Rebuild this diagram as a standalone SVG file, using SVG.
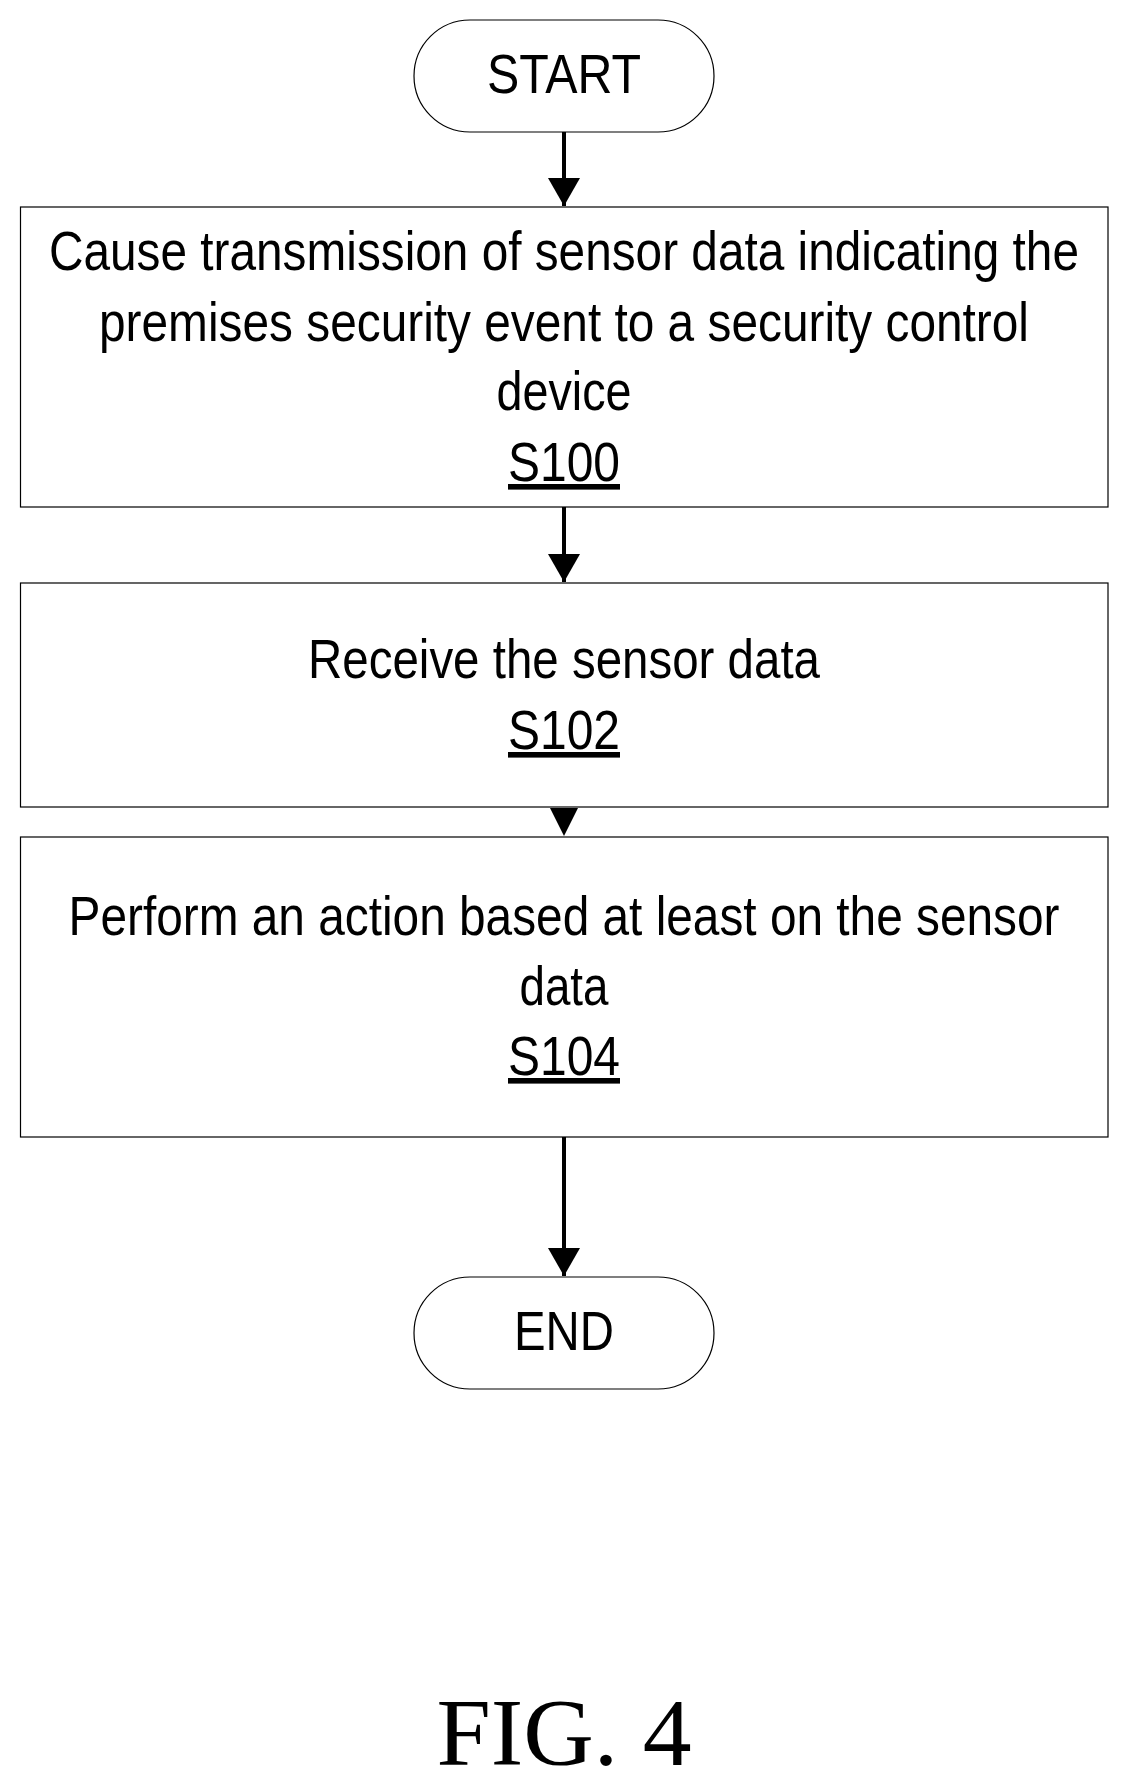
<svg xmlns="http://www.w3.org/2000/svg" width="1128" height="1787" viewBox="0 0 1128 1787">
<style>
.b{fill:#fff;stroke:#000;stroke-width:1.2}
.t{font-family:"Liberation Sans Narrow","Liberation Sans",Arial,sans-serif;font-size:56px;text-anchor:middle;fill:#000}
.u{text-decoration:underline}
.c{stroke:#000;stroke-width:4;fill:none}
</style>
<defs><marker id="a" markerWidth="8" markerHeight="8" refX="7" refY="4" orient="auto" markerUnits="strokeWidth"><path d="M0,0L7,4L0,8Z" fill="#000"/></marker></defs>
<rect width="1128" height="1787" fill="#fff"/>
<g id="connectors">
<line class="c" x1="564" y1="132" x2="564" y2="206" marker-end="url(#a)"/>
<line class="c" x1="564" y1="507" x2="564" y2="582" marker-end="url(#a)"/>
<path d="M550,808L578,808L564,836Z" fill="#000"/>
<line class="c" x1="564" y1="1137" x2="564" y2="1276" marker-end="url(#a)"/>
</g>
<g id="start"><rect class="b" x="414" y="20" width="300" height="112" rx="56"/><text class="t" x="564" y="93" textLength="154" lengthAdjust="spacingAndGlyphs">START</text></g>
<g id="s100"><rect class="b" x="20.5" y="207" width="1087.5" height="300"/>
<text class="t" x="564" y="270" textLength="1030" lengthAdjust="spacingAndGlyphs">Cause transmission of sensor data indicating the</text>
<text class="t" x="564" y="341" textLength="930" lengthAdjust="spacingAndGlyphs">premises security event to a security control</text>
<text class="t" x="564" y="410" textLength="135" lengthAdjust="spacingAndGlyphs">device</text>
<text class="t u" x="564" y="481" textLength="112" lengthAdjust="spacingAndGlyphs">S100</text></g>
<g id="s102"><rect class="b" x="20.5" y="583" width="1087.5" height="224"/>
<text class="t" x="564" y="678" textLength="512" lengthAdjust="spacingAndGlyphs">Receive the sensor data</text>
<text class="t u" x="564" y="749" textLength="112" lengthAdjust="spacingAndGlyphs">S102</text></g>
<g id="s104"><rect class="b" x="20.5" y="837" width="1087.5" height="300"/>
<text class="t" x="564" y="935" textLength="991" lengthAdjust="spacingAndGlyphs">Perform an action based at least on the sensor</text>
<text class="t" x="564" y="1005" textLength="89" lengthAdjust="spacingAndGlyphs">data</text>
<text class="t u" x="564" y="1075" textLength="112" lengthAdjust="spacingAndGlyphs">S104</text></g>
<g id="end"><rect class="b" x="414" y="1277" width="300" height="112" rx="56"/><text class="t" x="564" y="1350" textLength="100" lengthAdjust="spacingAndGlyphs">END</text></g>
<text x="564" y="1765" font-family="Liberation Serif,serif" font-size="96" text-anchor="middle" textLength="255" lengthAdjust="spacingAndGlyphs">FIG. 4</text>
</svg>
